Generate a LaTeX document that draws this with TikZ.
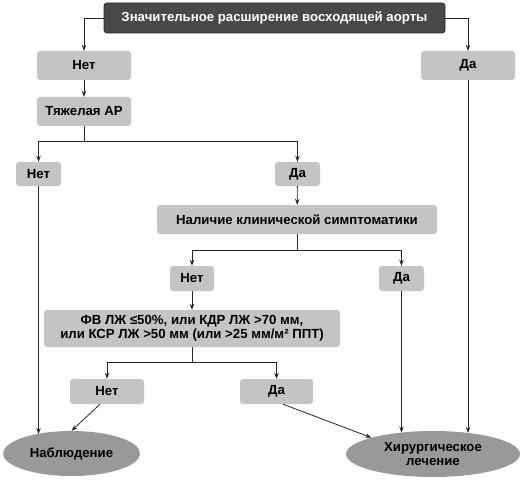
\documentclass[tikz,border=0pt]{standalone}
\usepackage{fontspec}
\setmainfont{Liberation Sans}
\usetikzlibrary{arrows.meta,shapes.geometric}
\definecolor{boxgrey}{HTML}{C4C4C4}
\definecolor{topgrey}{HTML}{484848}
\definecolor{ellgrey}{HTML}{999999}
\begin{document}
\begin{tikzpicture}[x=1pt,y=-1pt,
  every node/.style={font=\fontsize{13.2}{14.5}\selectfont\bfseries, inner sep=0pt, align=center},
  gbox/.style={rectangle, rounded corners=3pt, fill=boxgrey},
  topbox/.style={rectangle, rounded corners=3pt, fill=topgrey, draw=black!85, line width=0.8pt, text=white},
  ell/.style={ellipse, fill=ellgrey},
  conn/.style={line width=0.8pt, draw=black!85},
  arr/.style={conn, -{Stealth[length=6pt,width=4.5pt]}}]
\useasboundingbox (0,0) rectangle (531,487);
\node[topbox, minimum width=341pt, minimum height=30pt] (top) at (274.5,18) {Значительное расширение восходящей аорты};
\node[gbox, minimum width=94pt, minimum height=29pt] (net1) at (84,65.5) {Нет};
\node[gbox, minimum width=94pt, minimum height=29pt] (da1) at (468,65.5) {Да};
\node[gbox, minimum width=94pt, minimum height=29pt] (tyazh) at (84,111.5) {Тяжелая АР};
\node[gbox, minimum width=45pt, minimum height=24pt] (net2) at (38.5,174) {Нет};
\node[gbox, minimum width=45pt, minimum height=24pt] (da2) at (297.5,174) {Да};
\node[gbox, minimum width=280pt, minimum height=29pt] (nal) at (297,219.5) {Наличие клинической симптоматики};
\node[gbox, minimum width=44pt, minimum height=25pt] (net3) at (192,278.5) {Нет};
\node[gbox, minimum width=45pt, minimum height=25pt] (da3) at (401.5,278.5) {Да};
\node[gbox, minimum width=296pt, minimum height=37pt] (fv) at (192,328.5) {ФВ ЛЖ ≤50\%, или КДР ЛЖ >70 мм,\\или КСР ЛЖ >50 мм (или >25 мм/м² ППТ)};
\node[gbox, minimum width=74pt, minimum height=25pt] (net4) at (107,391.5) {Нет};
\node[gbox, minimum width=73pt, minimum height=25pt] (da4) at (276.5,391.5) {Да};
\node[ell, minimum width=137pt, minimum height=45pt] (nabl) at (71.5,453.5) {Наблюдение};
\node[ell, minimum width=174pt, minimum height=46pt] (hir) at (433,454) {Хирургическое\\лечение};
\coordinate (b1) at (84,141);
\coordinate (b2) at (297,250);
\coordinate (b3) at (192,362);
\coordinate (e1) at (38.5,434);
\coordinate (e2) at (401.5,432.5);
\coordinate (e3) at (468,433);
\draw[arr] (top.west) -| (net1.north);
\draw[arr] (top.east) -| (da1.north);
\draw[arr] (net1) -- (tyazh);
\draw[conn] (tyazh.south) -- (b1);
\draw[arr] (b1) -| (net2.north);
\draw[arr] (b1) -| (da2.north);
\draw[arr] (da2) -- (nal);
\draw[conn] (nal.south) -- (b2);
\draw[arr] (b2) -| (net3.north);
\draw[arr] (b2) -| (da3.north);
\draw[arr] (net3) -- (fv);
\draw[conn] (fv.south) -- (b3);
\draw[arr] (b3) -| (net4.north);
\draw[arr] (b3) -| (da4.north);
\draw[arr] (net2.south) -- (e1);
\draw[arr] ([xshift=-7pt]net4.south) -- (nabl.north);
\draw[arr] ([xshift=6.5pt]da4.south) -- (hir.north west);
\draw[arr] (da3.south) -- (e2);
\draw[arr] (da1.south) -- (e3);
\end{tikzpicture}
\end{document}
